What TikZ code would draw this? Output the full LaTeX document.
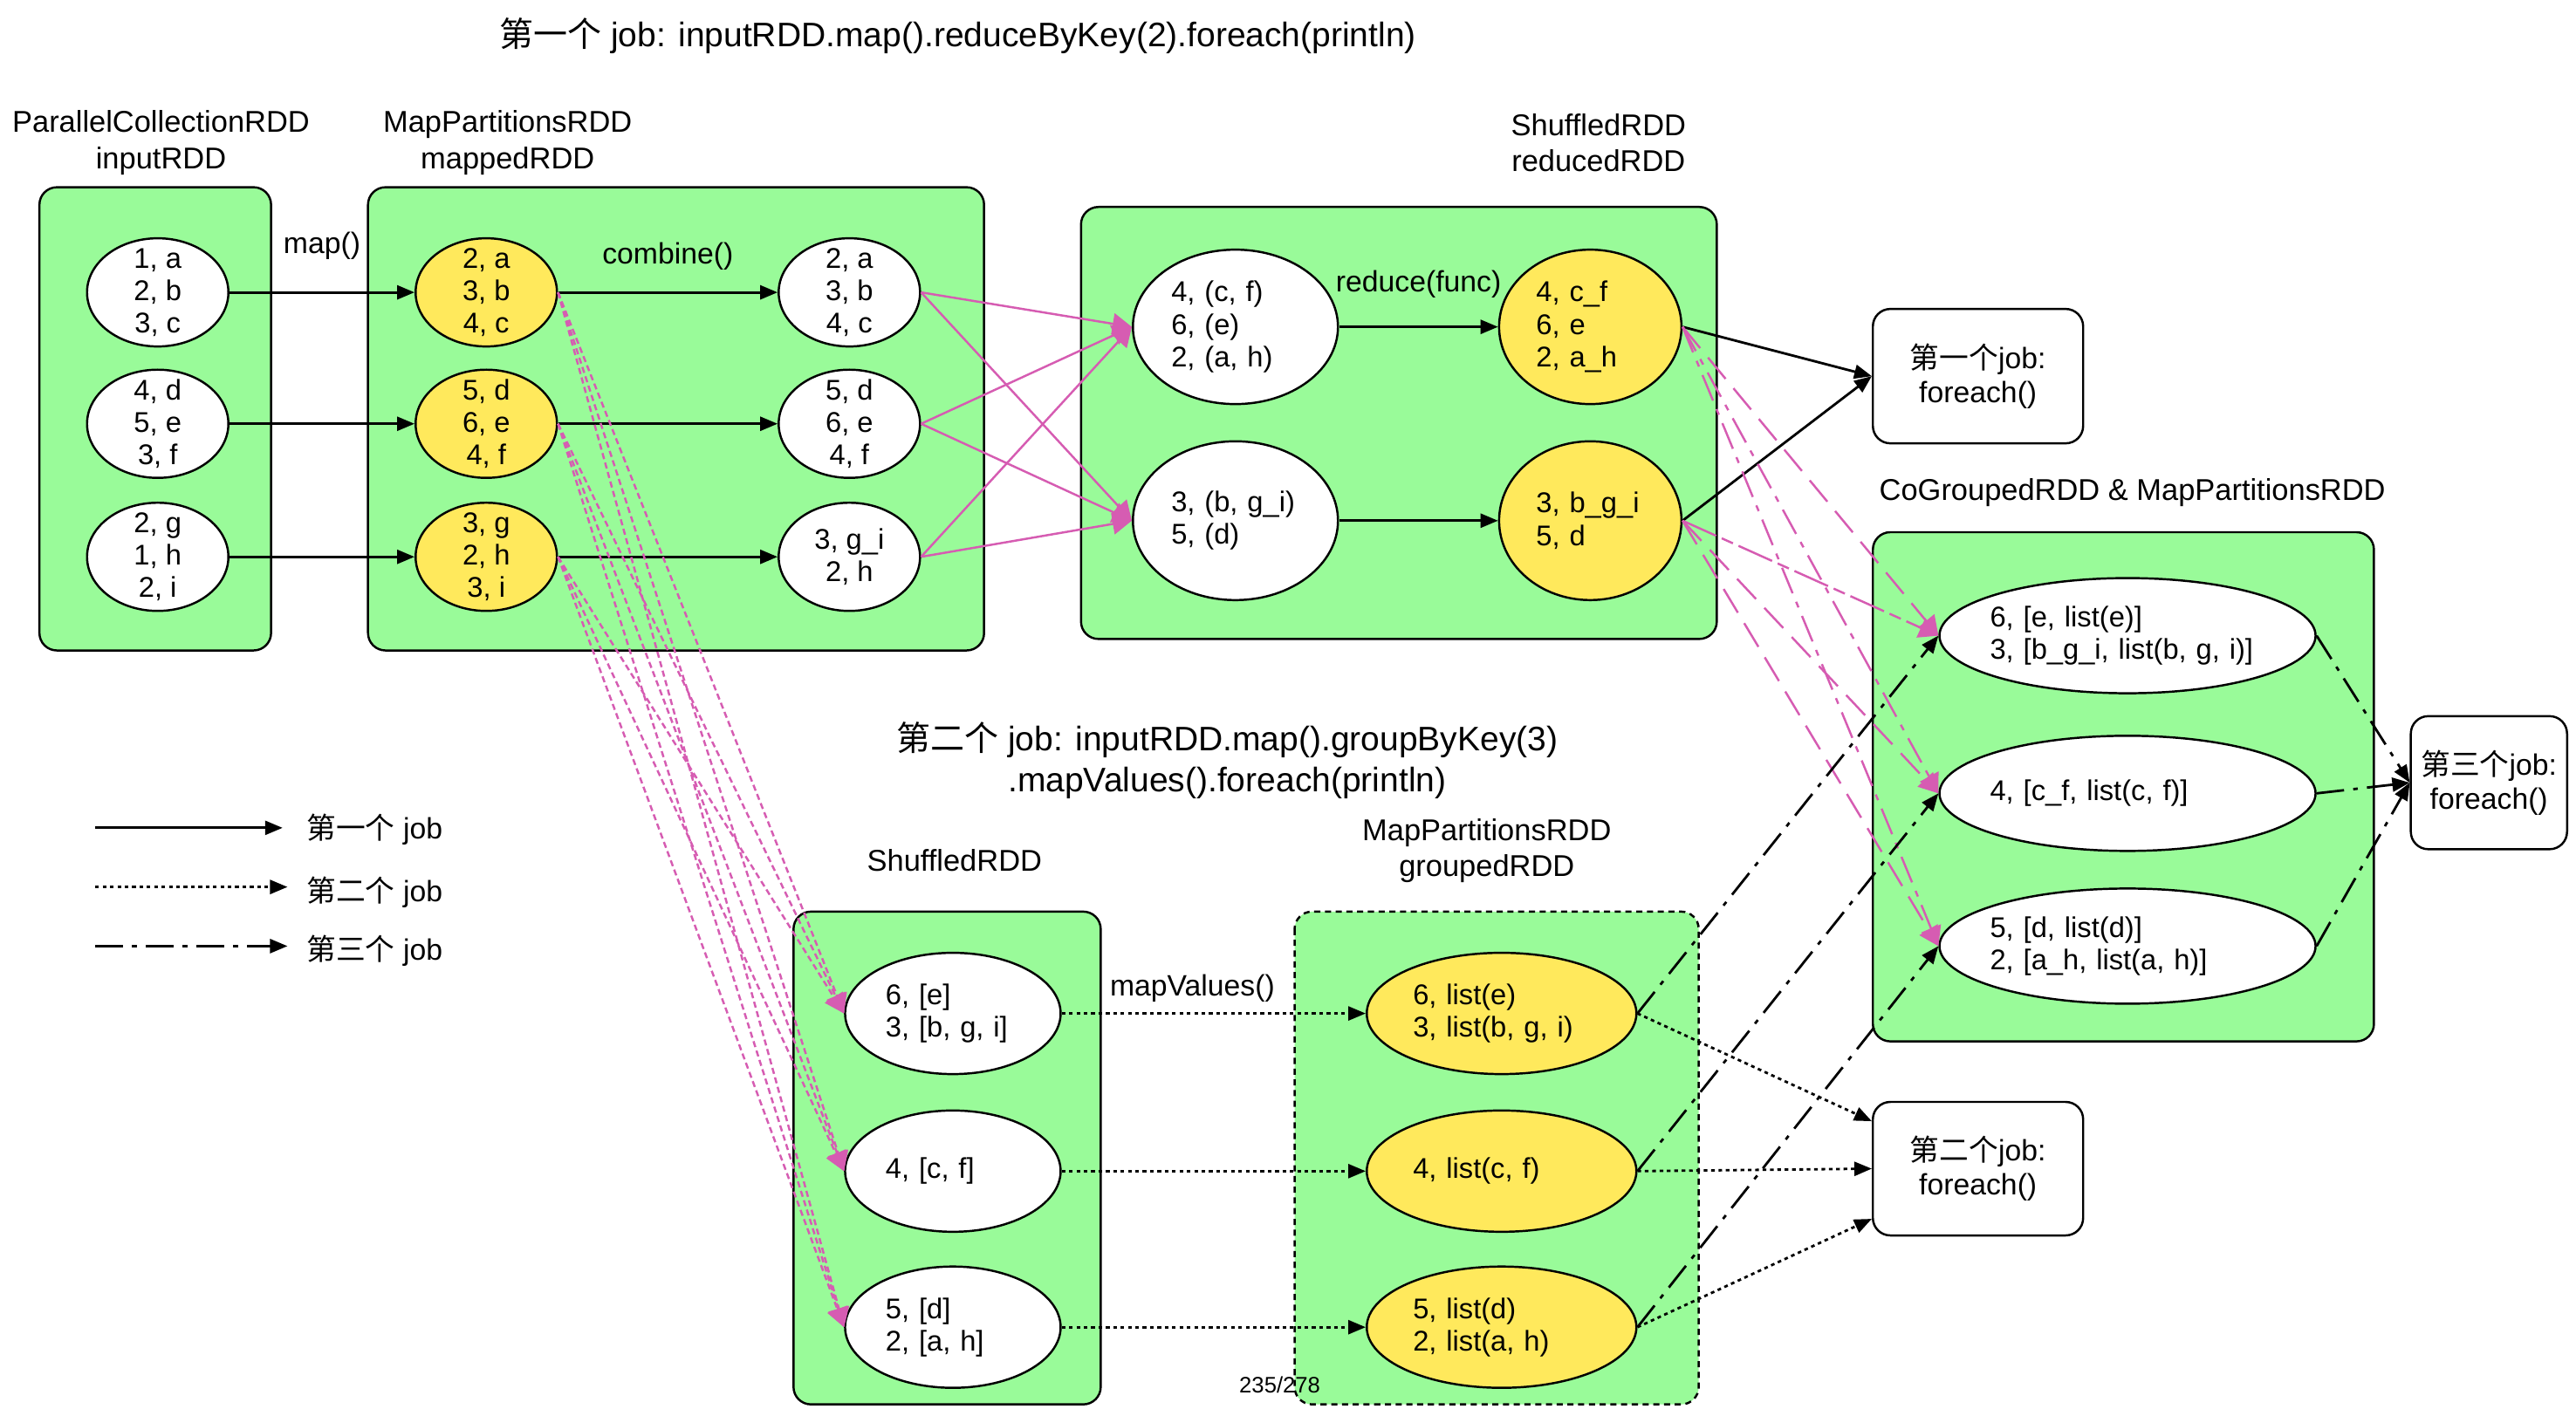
\documentclass[tikz,border=0pt]{standalone}
\usepackage{fontspec}
\setmainfont{Liberation Sans}
\newfontfamily\cjk{Noto Sans CJK SC}
\usetikzlibrary{shapes.geometric, arrows.meta, calc}

\definecolor{rddgreen}{RGB}{153,251,153}
\definecolor{rddyellow}{RGB}{255,233,92}
\definecolor{shufpink}{RGB}{214,92,178}

\tikzset{
	rdd/.style={draw, fill=rddgreen, rounded corners=2mm, line width=0.7pt},
	wnode/.style={ellipse, draw, fill=white, line width=0.7pt, inner sep=0pt},
	ynode/.style={wnode, fill=rddyellow},
	small/.style={minimum width=16.2mm, minimum height=12.4mm},
	jobbox/.style={draw, rounded corners=2mm, line width=0.7pt, align=center, font=\fontsize{9.6}{11.2}\selectfont},
	txt/.style={font=\fontsize{9.3}{10.6}\selectfont, align=center, inner sep=0pt},
	txtl/.style={txt, align=left},
	hdr/.style={font=\fontsize{9.8}{11.8}\selectfont, align=center},
	ttl/.style={font=\fontsize{11.1}{13.3}\selectfont, align=center},
	lbl/.style={font=\fontsize{9.6}{11}\selectfont},
	job1/.style={-{Triangle[length=2mm, width=1.6mm]}, line width=0.8pt},
	job2/.style={job1, dash pattern=on 1.2pt off 1.2pt},
	job3/.style={job1, dash pattern=on 9pt off 3pt on 1.5pt off 3pt},
	shuf/.style={shufpink, -{Triangle[length=2.2mm, width=2.4mm]}, line width=0.7pt},
	shufdot/.style={shuf, dash pattern=on 2pt off 1.2pt},
}

\begin{document}
\begin{tikzpicture}[x=0.18827mm, y=-0.18827mm]

	\fill[white] (0,0) rectangle (1568,861.6);
	\useasboundingbox (0,0) rectangle (1568,861.6);

	% titles
	\node[ttl] (t1) at (583,22) {{\cjk 第一个} job: inputRDD.map().reduceByKey(2).foreach(println)};
	\node[ttl] (t2) at (747,463) {{\cjk 第二个} job: inputRDD.map().groupByKey(3)\\.mapValues().foreach(println)};

	% headers
	\node[hdr] (h1) at (98,87) {ParallelCollectionRDD\\inputRDD};
	\node[hdr] (h2) at (309,87) {MapPartitionsRDD\\mappedRDD};
	\node[hdr] (h3) at (973,87) {ShuffledRDD\\reducedRDD};
	\node[hdr] (h4) at (1298,300) {CoGroupedRDD \& MapPartitionsRDD};
	\node[hdr] (h5) at (581,524) {ShuffledRDD};
	\node[hdr] (h6) at (905,518) {MapPartitionsRDD\\groupedRDD};

	% RDD boxes
	\draw[rdd] (24,114) rectangle (165,396);
	\draw[rdd] (224,114) rectangle (599,396);
	\draw[rdd] (658,126) rectangle (1045,389);
	\draw[rdd] (1140,324) rectangle (1445,634);
	\draw[rdd] (483,555) rectangle (670,855);
	\draw[rdd, dash pattern=on 2pt off 1.5pt] (788,555) rectangle (1034,855);

	% inputRDD
	\node[wnode, small, label={[txt]center:{1, a\\2, b\\3, c}}] (p1) at (96,178) {};
	\node[wnode, small, label={[txt]center:{4, d\\5, e\\3, f}}] (p2) at (96,258) {};
	\node[wnode, small, label={[txt]center:{2, g\\1, h\\2, i}}] (p3) at (96,339) {};

	% mappedRDD
	\node[ynode, small, label={[txt]center:{2, a\\3, b\\4, c}}] (m1) at (296,178) {};
	\node[ynode, small, label={[txt]center:{5, d\\6, e\\4, f}}] (m2) at (296,258) {};
	\node[ynode, small, label={[txt]center:{3, g\\2, h\\3, i}}] (m3) at (296,339) {};
	\node[wnode, small, label={[txt]center:{2, a\\3, b\\4, c}}] (c1) at (517,178) {};
	\node[wnode, small, label={[txt]center:{5, d\\6, e\\4, f}}] (c2) at (517,258) {};
	\node[wnode, small, label={[txt]center:{3, g\_i\\2, h}}] (c3) at (517,339) {};

	% reducedRDD
	\node[wnode, minimum width=23.5mm, minimum height=17.7mm, label={[txtl, text width=14.7mm]center:{4, (c, f)\\6, (e)\\2, (a, h)}}] (r1) at (752,199) {};
	\node[wnode, minimum width=23.5mm, minimum height=18.2mm, label={[txtl, text width=14.7mm]center:{3, (b, g\_i)\\5, (d)}}] (r2) at (752,317) {};
	\node[ynode, minimum width=20.9mm, minimum height=17.7mm, label={[txtl, text width=12.4mm]center:{4, c\_f\\6, e\\2, a\_h}}] (y1) at (968,199) {};
	\node[ynode, minimum width=20.9mm, minimum height=18.2mm, label={[txtl, text width=12.4mm]center:{3, b\_g\_i\\5, d}}] (y2) at (968,317) {};

	% CoGroupedRDD
	\node[wnode, minimum width=43.1mm, minimum height=13.2mm, label={[txtl, text width=31.5mm]center:{6, [e, list(e)]\\3, [b\_g\_i, list(b, g, i)]}}] (g1) at (1295,387) {};
	\node[wnode, minimum width=43.1mm, minimum height=13.2mm, label={[txtl, text width=31.5mm]center:{4, [c\_f, list(c, f)]}}] (g2) at (1295,483) {};
	\node[wnode, minimum width=43.1mm, minimum height=13.2mm, label={[txtl, text width=31.5mm]center:{5, [d, list(d)]\\2, [a\_h, list(a, h)]}}] (g3) at (1295,576) {};

	% ShuffledRDD (second job)
	\node[wnode, minimum width=24.7mm, minimum height=13.9mm, label={[txtl, text width=15.4mm]center:{6, [e]\\3, [b, g, i]}}] (s1) at (580,617) {};
	\node[wnode, minimum width=24.7mm, minimum height=13.9mm, label={[txtl, text width=15.4mm]center:{4, [c, f]}}] (s2) at (580,713) {};
	\node[wnode, minimum width=24.7mm, minimum height=13.9mm, label={[txtl, text width=15.4mm]center:{5, [d]\\2, [a, h]}}] (s3) at (580,808) {};

	% groupedRDD
	\node[ynode, minimum width=30.9mm, minimum height=13.9mm, label={[txtl, text width=20.3mm]center:{6, list(e)\\3, list(b, g, i)}}] (q1) at (914,617) {};
	\node[ynode, minimum width=30.9mm, minimum height=13.9mm, label={[txtl, text width=20.3mm]center:{4, list(c, f)}}] (q2) at (914,713) {};
	\node[ynode, minimum width=30.9mm, minimum height=13.9mm, label={[txtl, text width=20.3mm]center:{5, list(d)\\2, list(a, h)}}] (q3) at (914,808) {};

	% foreach() boxes
	\node[jobbox, minimum width=24.1mm, minimum height=15.4mm] (f1) at (1204,229) {{\cjk 第一个}job:\\foreach()};
	\node[jobbox, minimum width=24.1mm, minimum height=15.3mm] (f2) at (1204,711.5) {{\cjk 第二个}job:\\foreach()};
	\node[jobbox, minimum width=17.7mm, minimum height=15.25mm] (f3) at (1515,476.5) {{\cjk 第三个}job:\\foreach()};

	% first job
	\draw[job1] (p1) -- node[lbl, above=2.4mm]{map()} (m1);
	\draw[job1] (p2) -- (m2);
	\draw[job1] (p3) -- (m3);
	\draw[job1] (m1) -- node[lbl, above=1.25mm]{combine()} (c1);
	\draw[job1] (m2) -- (c2);
	\draw[job1] (m3) -- (c3);
	\foreach \a in {c1,c2,c3}
		\foreach \b in {r1,r2}
			\draw[shuf] (\a.east) -- (\b.west);
	\draw[job1] (r1) -- node[lbl, above=2mm]{reduce(func)} (y1);
	\draw[job1] (r2) -- (y2);
	\draw[job1] (y1.east) -- (f1.west);
	\draw[job1] (y2.east) -- (f1.west);

	% second job
	\foreach \a in {m1,m2,m3}
		\foreach \b in {s1,s2,s3}
			\draw[shufdot] (\a.east) -- (\b.west);
	\draw[job2] (s1) -- node[lbl, above, pos=0.43]{mapValues()} (q1);
	\draw[job2] (s2) -- (q2);
	\draw[job2] (s3) -- (q3);
	\draw[job2] (q1.east) -- ($(f2.north west)!0.15!(f2.south west)$);
	\draw[job2] (q2.east) -- (f2.west);
	\draw[job2] (q3.east) -- ($(f2.north west)!0.87!(f2.south west)$);

	% third job
	\draw[shuf, dash pattern=on 9pt off 4pt] (y1.east) -- (g1.west);
	\draw[shuf, dash pattern=on 9pt off 3pt on 2pt off 3pt] (y1.east) -- (g2.west);
	\draw[shuf, dash pattern=on 9pt off 3pt on 2pt off 3pt] (y1.east) -- (g3.west);
	\draw[shuf, dash pattern=on 12pt off 2pt on 4pt off 2pt] (y2.east) -- (g1.west);
	\draw[shuf, dash pattern=on 9pt off 4pt] (y2.east) -- (g2.west);
	\draw[shuf, dash pattern=on 9pt off 4pt] (y2.east) -- (g3.west);
	\draw[job3] (q1.east) -- (g1.west);
	\draw[job3] (q2.east) -- (g2.west);
	\draw[job3] (q3.east) -- (g3.west);
	\draw[job3] (g1.east) -- (f3.west);
	\draw[job3] (g2.east) -- (f3.west);
	\draw[job3] (g3.east) -- (f3.west);

	% legend
	\coordinate (k1a) at (58,504); \coordinate (k1b) at (172,504);
	\coordinate (k2a) at (58,540); \coordinate (k2b) at (175,540);
	\coordinate (k3a) at (58,576); \coordinate (k3b) at (175,576);
	\draw[job1] (k1a) -- (k1b);
	\draw[job2] (k2a) -- (k2b);
	\draw[job3] (k3a) -- (k3b);
	\node[lbl] (l1) at (228,505) {{\cjk 第一个} job};
	\node[lbl] (l2) at (228,543) {{\cjk 第二个} job};
	\node[lbl] (l3) at (228,579) {{\cjk 第三个} job};

	\node[font=\fontsize{7.3}{9}\selectfont] (pg) at (779,843) {235/278};

\end{tikzpicture}
\end{document}
